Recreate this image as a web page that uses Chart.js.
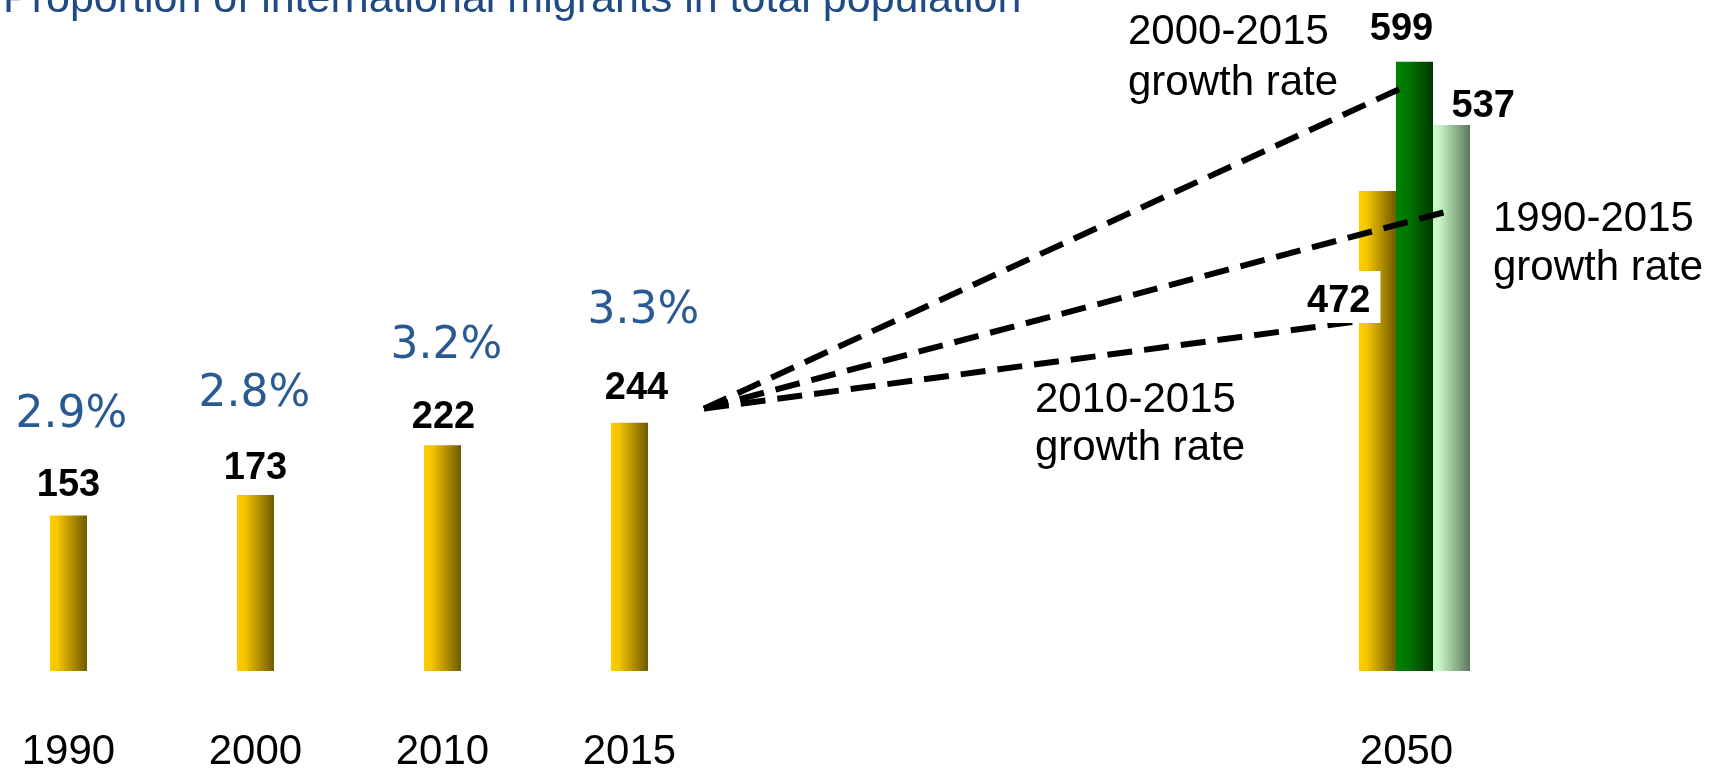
<!DOCTYPE html>
<html>
<head>
<meta charset="utf-8">
<script src="https://cdn.jsdelivr.net/npm/chart.js@4"></script>
<style>
  html, body { margin: 0; padding: 0; background: #fff; }
  canvas { display: block; }
</style>
</head>
<body>
<canvas id="myChart" width="1720" height="768"></canvas>
<script>
// international migrants, millions
const years = ["1990", "2000", "2010", "2015", "", "", "", "2050"];
const migrants = [153, 173, 222, 244, null, null, null, 472];
const at2000Rate = [null, null, null, null, null, null, null, 599];
const at1990Rate = [null, null, null, null, null, null, null, 537];
const shares = ["2.9%", "2.8%", "3.2%", "3.3%"];
const rateNotes = [
  ["2000-2015", "growth rate"],
  ["1990-2015", "growth rate"],
  ["2010-2015", "growth rate"],
];
const titleText = "Proportion of international migrants in total population";

const barShades = [
  [[0, "#ffcc00"], [0.2, "#f6c500"], [1, "#6e5900"]],
  [[0, "#008200"], [0.3, "#007800"], [1, "#003800"]],
  [[0, "#ccffcc"], [0.2, "#c2f2c2"], [1, "#5a785a"]],
];

const boldFont = "bold 38px 'Liberation Sans', Arial, sans-serif";
const plainFont = "42px 'Liberation Sans', Arial, sans-serif";

const decorations = {
  id: "decorations",
  beforeDatasetDraw(chart, args) {
    const ctx = chart.ctx;
    const stops = barShades[args.index];
    args.meta.data.forEach((bar) => {
      const g = ctx.createLinearGradient(bar.x - bar.width / 2, 0, bar.x + bar.width / 2, 0);
      stops.forEach(([at, colour]) => g.addColorStop(at, colour));
      bar.options = Object.assign({}, bar.options, { backgroundColor: g });
    });
  },
  afterDatasetsDraw(chart) {
    const ctx = chart.ctx;
    const y = chart.scales.y;
    const bars = chart.data.datasets.map((d, i) => chart.getDatasetMeta(i).data);
    const last = years.length - 1;

    // dashed growth lines from the 2015 bar to the 2050 projections
    const from = bars[0][3];
    const sx = from.x + from.width / 2 + 56;
    const sy = y.getPixelForValue(258);
    const ends = [
      { series: 1, dx: 5, value: 573 },
      { series: 2, dx: 11, value: 451 },
      { series: 0, dx: 0, value: 344 },
    ];
    ctx.save();
    ctx.strokeStyle = "#000";
    ctx.lineWidth = 6;
    ctx.setLineDash([25, 12]);
    ends.forEach((end) => {
      const bar = bars[end.series][last];
      ctx.beginPath();
      ctx.moveTo(sx, sy);
      ctx.lineTo(bar.x - bar.width / 2 + end.dx, y.getPixelForValue(end.value));
      ctx.stroke();
    });
    ctx.restore();

    ctx.save();
    ctx.textBaseline = "alphabetic";

    // value labels
    ctx.font = boldFont;
    const gaps = [19, 16, 17, 24];
    const nudges = [0, 0, 1, 7];
    chart.data.datasets.forEach((ds, di) => {
      ds.data.forEach((v, i) => {
        if (v == null) return;
        const bar = bars[di][i];
        const text = String(v);
        if (di === 0 && i === last) {
          const w = ctx.measureText(text).width;
          const right = bar.x - 7;
          const base = bar.y + 121;
          ctx.fillStyle = "#fff";
          ctx.fillRect(right - w - 10, base - 41, w + 20, 52);
          ctx.fillStyle = "#000";
          ctx.textAlign = "right";
          ctx.fillText(text, right, base);
        } else if (di === 1) {
          ctx.fillStyle = "#000";
          ctx.textAlign = "center";
          ctx.fillText(text, bar.x - 13, bar.y - 22);
        } else if (di === 2) {
          ctx.fillStyle = "#000";
          ctx.textAlign = "left";
          ctx.fillText(text, bar.x, bar.y - 8);
        } else {
          ctx.fillStyle = "#000";
          ctx.textAlign = "center";
          ctx.fillText(text, bar.x + nudges[i], bar.y - gaps[i]);
        }
      });
    });

    // share of total population
    ctx.font = "44px 'DejaVu Sans', Verdana, sans-serif";
    ctx.fillStyle = "#2a5a92";
    ctx.textAlign = "center";
    const shareGaps = [88, 89, 87, 100];
    const shareNudges = [3, -1, 4, 14];
    shares.forEach((s, i) => {
      const bar = bars[0][i];
      ctx.fillText(s, bar.x + shareNudges[i], bar.y - shareGaps[i]);
    });

    // year labels under the bars
    ctx.font = plainFont;
    ctx.fillStyle = "#000";
    ctx.textAlign = "center";
    years.forEach((label, i) => {
      if (!label) return;
      const xs = [];
      chart.data.datasets.forEach((ds, di) => {
        if (ds.data[i] != null) xs.push(bars[di][i].x);
      });
      const cx = xs.reduce((a, b) => a + b, 0) / xs.length;
      ctx.fillText(label, cx - (xs.length > 1 ? 8 : 0), 764);
    });

    // growth rate notes
    ctx.textAlign = "left";
    const notePlaces = [[1128, 44, 95], [1493, 231, 280], [1035, 412, 460]];
    rateNotes.forEach((lines, i) => {
      const [nx, y1, y2] = notePlaces[i];
      ctx.fillText(lines[0], nx, y1);
      ctx.fillText(lines[1], nx, y2);
    });

    // title, cut by the top edge
    ctx.font = "43px 'Liberation Sans', Arial, sans-serif";
    ctx.fillStyle = "#1f4a86";
    ctx.fillText(titleText, 3, 12);
    ctx.restore();
  },
};

new Chart("myChart", {
  type: "bar",
  data: {
    labels: years,
    datasets: [
      { label: "Migrants", data: migrants },
      { label: "2000-2015 growth rate", data: at2000Rate },
      { label: "1990-2015 growth rate", data: at1990Rate },
    ],
  },
  options: {
    responsive: false,
    devicePixelRatio: 1,
    animation: false,
    borderWidth: 0,
    categoryPercentage: 0.594,
    barPercentage: 1,
    layout: { padding: { left: 12, right: 212, top: 10, bottom: 97 } },
    scales: {
      x: { display: false },
      y: { display: false, min: 0, max: 650 },
    },
    plugins: {
      legend: { display: false },
      tooltip: { enabled: false },
    },
  },
  plugins: [decorations],
});
</script>
</body>
</html>
